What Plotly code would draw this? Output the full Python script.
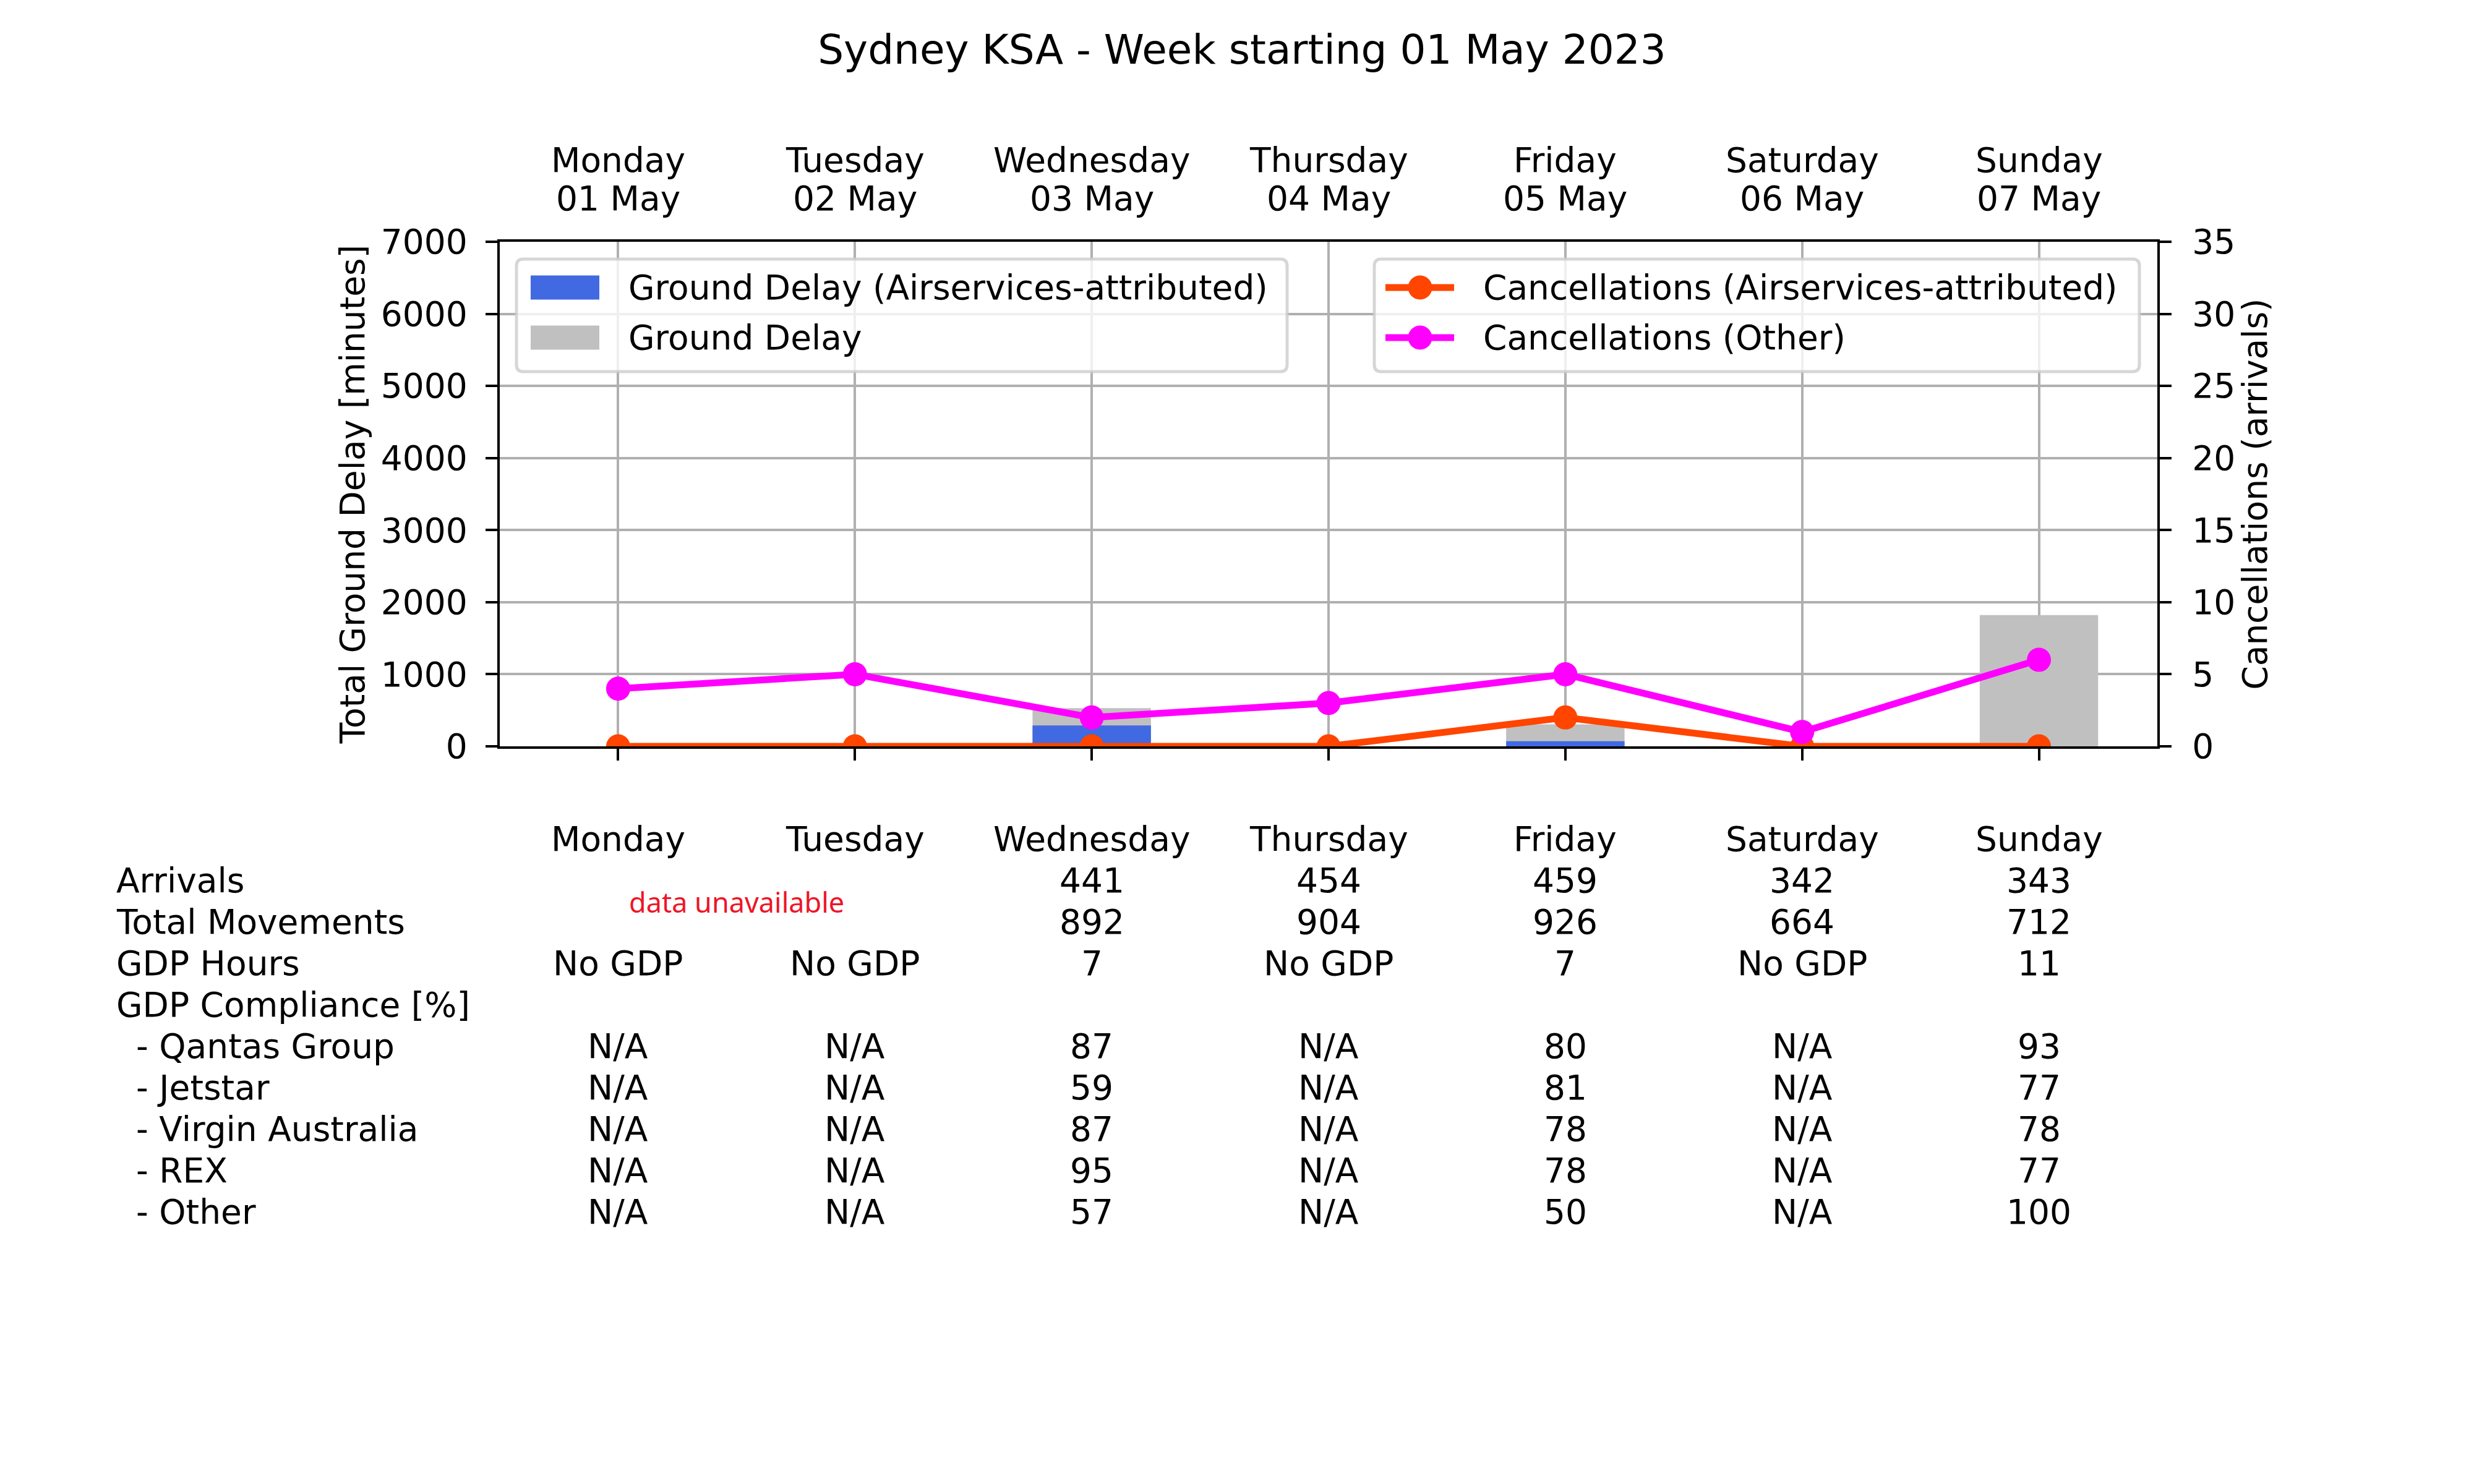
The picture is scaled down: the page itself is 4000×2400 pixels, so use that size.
import plotly.graph_objects as go

W, H = 4000, 2400

DAYS = ["Monday", "Tuesday", "Wednesday", "Thursday", "Friday", "Saturday", "Sunday"]
DATES = ["01 May", "02 May", "03 May", "04 May", "05 May", "06 May", "07 May"]

ground_delay = [0, 0, 530, 0, 305, 0, 1820]
ground_delay_as = [0, 0, 290, 0, 70, 0, 0]
canc_as = [0, 0, 0, 0, 2, 0, 0]
canc_other = [4, 5, 2, 3, 5, 1, 6]

arrivals = ["", "", "441", "454", "459", "342", "343"]
movements = ["", "", "892", "904", "926", "664", "712"]
gdp_hours = ["No GDP", "No GDP", "7", "No GDP", "7", "No GDP", "11"]
compliance = {
    "Qantas Group": ["N/A", "N/A", "87", "N/A", "80", "N/A", "93"],
    "Jetstar": ["N/A", "N/A", "59", "N/A", "81", "N/A", "77"],
    "Virgin Australia": ["N/A", "N/A", "87", "N/A", "78", "N/A", "78"],
    "REX": ["N/A", "N/A", "95", "N/A", "78", "N/A", "77"],
    "Other": ["N/A", "N/A", "57", "N/A", "50", "N/A", "100"],
}

FONT = "DejaVu Sans"
FS = 55
LW = 4.4
GRID = "#b0b0b0"


def px(x):
    return x / W


def py(y):
    return 1 - y / H


def label(text, x, y, xref="paper", xanchor="left", size=FS, family=FONT, color="black"):
    return dict(text=text, x=x, y=py(y), xref=xref, yref="paper", xanchor=xanchor,
                yanchor="middle", showarrow=False, font=dict(family=family, size=size, color=color))


idx = list(range(len(DAYS)))

fig = go.Figure()
fig.add_trace(go.Bar(x=idx, y=ground_delay, width=0.5, marker=dict(color="#c0c0c0", line_width=0),
                     name="Ground Delay"))
fig.add_trace(go.Bar(x=idx, y=ground_delay_as, width=0.5, marker=dict(color="#4169e1", line_width=0),
                     name="Ground Delay (Airservices-attributed)"))
fig.add_trace(go.Scatter(x=idx, y=canc_as, yaxis="y2", mode="lines+markers",
                         line=dict(color="#ff4500", width=11), marker=dict(size=39, color="#ff4500"),
                         name="Cancellations (Airservices-attributed)"))
fig.add_trace(go.Scatter(x=idx, y=canc_other, yaxis="y2", mode="lines+markers",
                         line=dict(color="#ff00ff", width=11), marker=dict(size=39, color="#ff00ff"),
                         name="Cancellations (Other)"))

axis_common = dict(showline=True, linecolor="black", linewidth=LW, ticks="outside", ticklen=19,
                   tickwidth=LW, tickcolor="black", tickfont=dict(family=FONT, size=FS, color="black"),
                   zeroline=False, automargin=False)

fig.update_layout(
    template="none",
    width=W, height=H, margin=dict(l=0, r=0, t=0, b=0, autoexpand=False),
    paper_bgcolor="white", plot_bgcolor="white", barmode="overlay", showlegend=False,
    font=dict(family=FONT, size=FS, color="black"),
    title=dict(text="Sydney KSA - Week starting 01 May 2023", x=0.5, xanchor="center",
               y=py(72), yanchor="middle", font=dict(family=FONT, size=66, color="black")),
    xaxis=dict(domain=[px(800), px(3480)], range=[-0.5, 6.5], tickmode="array", tickvals=idx,
               showticklabels=False, showgrid=True, gridcolor=GRID, gridwidth=LW,
               mirror=True, **axis_common),
    yaxis=dict(domain=[py(1199), py(383)], range=[0, 7000], tickmode="linear", tick0=0, dtick=1000,
               showgrid=True, gridcolor=GRID, gridwidth=LW, ticklabelstandoff=18,
               title=dict(text="Total Ground Delay [minutes]", standoff=10,
                          font=dict(family=FONT, size=FS, color="black")),
               **axis_common),
    yaxis2=dict(overlaying="y", side="right", range=[0, 35], tickmode="linear", tick0=0, dtick=5,
                showgrid=False, ticklabelstandoff=22,
                title=dict(text="Cancellations (arrivals)", standoff=0,
                           font=dict(family=FONT, size=FS, color="black")),
                **axis_common),
)


def rounded_box(x0, y0, x1, y1, r=11):
    a0, a1 = px(x0), px(x1)
    b0, b1 = py(y0), py(y1)
    rx, ry = r / W, r / H
    return (f"M {a0 + rx},{b0} L {a1 - rx},{b0} Q {a1},{b0} {a1},{b0 - ry} "
            f"L {a1},{b1 + ry} Q {a1},{b1} {a1 - rx},{b1} L {a0 + rx},{b1} "
            f"Q {a0},{b1} {a0},{b1 + ry} L {a0},{b0 - ry} Q {a0},{b0} {a0 + rx},{b0} Z")


shapes = []
annotations = []

# day / date labels above the plot
for i in idx:
    annotations.append(label(DAYS[i], i, 251, xref="x", xanchor="center"))
    annotations.append(label(DATES[i], i, 313, xref="x", xanchor="center"))

# legend boxes
for x0, x1 in [(827, 2073), (2214, 3451)]:
    shapes.append(dict(type="path", path=rounded_box(x0, 411, x1, 593), xref="paper", yref="paper",
                       fillcolor="rgba(255,255,255,0.8)", line=dict(color="rgba(204,204,204,0.8)", width=5),
                       layer="above"))

bar_legend = [("Ground Delay (Airservices-attributed)", "#4169e1", 457),
              ("Ground Delay", "#c0c0c0", 538)]
for text, color, yc in bar_legend:
    shapes.append(dict(type="rect", xref="paper", yref="paper", x0=px(850), x1=px(961),
                       y0=py(yc + 19.5), y1=py(yc - 19.5), fillcolor=color, line_width=0, layer="above"))
    annotations.append(label(text, px(1006), yc))

line_legend = [("Cancellations (Airservices-attributed)", "#ff4500", 457),
               ("Cancellations (Other)", "#ff00ff", 538)]
for text, color, yc in line_legend:
    shapes.append(dict(type="line", xref="paper", yref="paper", x0=px(2232), x1=px(2343),
                       y0=py(yc), y1=py(yc), line=dict(color=color, width=11), layer="above"))
    shapes.append(dict(type="circle", xref="paper", yref="paper", x0=px(2288 - 19.5), x1=px(2288 + 19.5),
                       y0=py(yc + 19.5), y1=py(yc - 19.5), fillcolor=color, line_width=0, layer="above"))
    annotations.append(label(text, px(2388), yc))

# table under the chart
ROW0, ROWSTEP = 1349, 67
rows = [("", DAYS), ("Arrivals", arrivals), ("Total Movements", movements),
        ("GDP Hours", gdp_hours), ("GDP Compliance [%]", None)]
rows += [("- " + k, v) for k, v in compliance.items()]

for r, (row_name, values) in enumerate(rows):
    yc = ROW0 + r * ROWSTEP
    if row_name:
        indent = 210 if row_name.startswith("- ") else 178
        annotations.append(label(row_name, px(indent), yc))
    if values:
        for i, v in enumerate(values):
            if v:
                annotations.append(label(v, i, yc, xref="x", xanchor="center"))

annotations.append(label("data unavailable", 0.5, 1450, xref="x", xanchor="center",
                         size=45, family="Noto Sans", color="#ee1527"))

fig.update_layout(shapes=shapes, annotations=annotations)

fig.write_html("out.html")
